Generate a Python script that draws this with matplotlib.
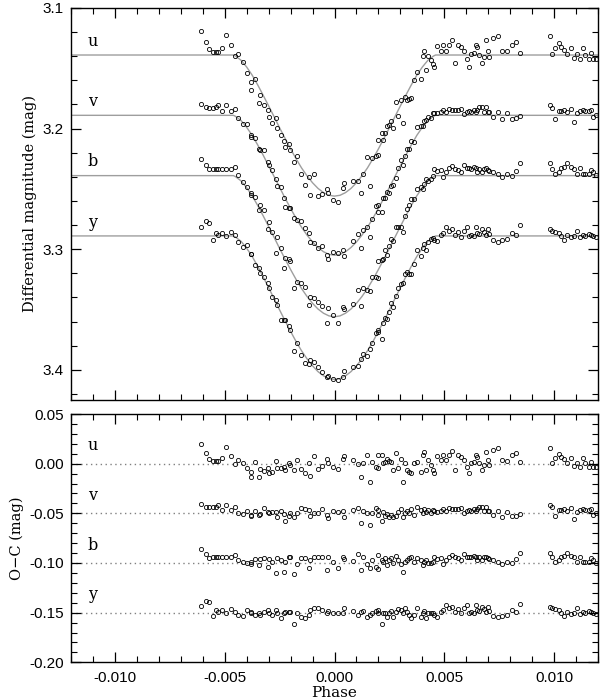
import numpy as np
import matplotlib
matplotlib.use("Agg")
import matplotlib.pyplot as plt
from matplotlib.ticker import MultipleLocator, FormatStrFormatter

plt.rcParams["font.family"] = ["Liberation Sans", "DejaVu Sans"]
plt.rcParams["axes.unicode_minus"] = True

# phases of the observations (shared by the four filters)
phase = [
    -0.00609, -0.00586, -0.00571, -0.00551, -0.00540, -0.00530, -0.00512, -0.00493, -0.00473, -0.00455,
    -0.00437, -0.00417, -0.00400, -0.00382, -0.00379, -0.00360, -0.00345, -0.00340, -0.00322, -0.00304,
    -0.00300, -0.00284, -0.00265, -0.00262, -0.00243, -0.00228, -0.00224, -0.00209, -0.00201, -0.00186,
    -0.00171, -0.00151, -0.00133, -0.00118, -0.00110, -0.00095, -0.00073, -0.00055, -0.00035, -0.00030,
    -0.00008,
    0.00018, 0.00040, 0.00045, 0.00086, 0.00108, 0.00120, 0.00131, 0.00150, 0.00161, 0.00172,
    0.00191, 0.00196, 0.00199, 0.00214, 0.00221, 0.00232, 0.00241, 0.00247, 0.00259, 0.00267,
    0.00279, 0.00290, 0.00301, 0.00312, 0.00320, 0.00332, 0.00338, 0.00347, 0.00362, 0.00377,
    0.00392, 0.00403, 0.00407, 0.00418, 0.00425, 0.00437, 0.00448, 0.00452, 0.00468, 0.00486,
    0.00493, 0.00508, 0.00519, 0.00534, 0.00549, 0.00564, 0.00576, 0.00591, 0.00603,
    0.00614, 0.00622, 0.00634, 0.00644, 0.00649, 0.00659, 0.00670, 0.00679, 0.00690, 0.00700,
    0.00705, 0.00720, 0.00742, 0.00762, 0.00785, 0.00806, 0.00825, 0.00845,
    0.00981, 0.00991, 0.01003, 0.01021, 0.01032, 0.01044, 0.01059, 0.01074, 0.01089, 0.01105,
    0.01117, 0.01132, 0.01142, 0.01157, 0.01165, 0.01177, 0.01188,
]

# differential magnitudes (top panel)
mag_u = [
    3.1192, 3.1283, 3.1343, 3.1367, 3.1367, 3.1367, 3.1333, 3.1222, 3.1310, 3.1398,
    3.1381, 3.1449, 3.1536, 3.1617, 3.1684, 3.1587, 3.1784, 3.1725, 3.1803, 3.1844,
    3.1908, 3.1956, 3.1911, 3.1996, 3.2057, 3.2101, 3.2149, 3.2126, 3.2178, 3.2278,
    3.2225, 3.2378, 3.2467, 3.2398, 3.2549, 3.2378, 3.2555, 3.2544, 3.2497, 3.2538,
    3.2589,
    3.2609, 3.2496, 3.2455, 3.2438, 3.2437, 3.2534, 3.2373, 3.2239, 3.2473, 3.2246,
    3.2227, 3.2094, 3.2219, 3.2033, 3.2093, 3.2037, 3.1980, 3.1973, 3.1940, 3.1995,
    3.1776, 3.1894, 3.1764, 3.1950, 3.1737, 3.1762, 3.1758, 3.1743, 3.1594, 3.1530,
    3.1591, 3.1395, 3.1353, 3.1514, 3.1397, 3.1431, 3.1466, 3.1488, 3.1313, 3.1353,
    3.1303, 3.1353, 3.1303, 3.1263, 3.1454, 3.1303, 3.1326, 3.1353, 3.1420,
    3.1487, 3.1380, 3.1370, 3.1303, 3.1326, 3.1387, 3.1454, 3.1403, 3.1269, 3.1353,
    3.1403, 3.1252, 3.1236, 3.1353, 3.1360, 3.1303, 3.1286, 3.1370,
    3.1236, 3.1380, 3.1336, 3.1293, 3.1326, 3.1346, 3.1380, 3.1336, 3.1413, 3.1380,
    3.1427, 3.1336, 3.1387, 3.1427, 3.1370, 3.1427, 3.1420,
]
mag_v = [
    3.1799, 3.1823, 3.1830, 3.1830, 3.1823, 3.1806, 3.1856, 3.1806, 3.1856, 3.1835,
    3.1911, 3.1961, 3.1962, 3.2053, 3.2071, 3.2075, 3.2168, 3.2178, 3.2180, 3.2277,
    3.2301, 3.2347, 3.2416, 3.2478, 3.2485, 3.2575, 3.2653, 3.2657, 3.2658, 3.2741,
    3.2754, 3.2766, 3.2822, 3.2865, 3.2944, 3.2949, 3.2989, 3.2970, 3.3051, 3.3082,
    3.3022,
    3.3028, 3.3003, 3.3060, 3.2931, 3.2871, 3.2989, 3.2841, 3.2818, 3.2901, 3.2752,
    3.2640, 3.2691, 3.2631, 3.2691, 3.2572, 3.2578, 3.2529, 3.2532, 3.2472, 3.2466,
    3.2410, 3.2327, 3.2264, 3.2300, 3.2230, 3.2168, 3.2168, 3.2104, 3.2112, 3.1989,
    3.1975, 3.1975, 3.1934, 3.1932, 3.1900, 3.1911, 3.1868, 3.1870, 3.1873, 3.1863,
    3.1850, 3.1863, 3.1840, 3.1850, 3.1850, 3.1850, 3.1840, 3.1883, 3.1863,
    3.1856, 3.1863, 3.1850, 3.1863, 3.1850, 3.1823, 3.1823, 3.1863, 3.1823, 3.1863,
    3.1863, 3.1907, 3.1863, 3.1924, 3.1873, 3.1917, 3.1913, 3.1897,
    3.1806, 3.1830, 3.1917, 3.1856, 3.1856, 3.1850, 3.1863, 3.1840, 3.1944, 3.1873,
    3.1856, 3.1850, 3.1856, 3.1856, 3.1850, 3.1907, 3.1890,
]
mag_b = [
    3.2252, 3.2299, 3.2336, 3.2333, 3.2333, 3.2333, 3.2333, 3.2333, 3.2333, 3.2315,
    3.2388, 3.2439, 3.2486, 3.2547, 3.2533, 3.2567, 3.2673, 3.2631, 3.2679, 3.2834,
    3.2774, 3.2856, 3.3035, 3.2895, 3.2987, 3.3158, 3.3072, 3.3079, 3.3101, 3.3325,
    3.3275, 3.3277, 3.3316, 3.3462, 3.3395, 3.3401, 3.3438, 3.3467, 3.3614, 3.3491,
    3.3546,
    3.3609, 3.3476, 3.3498, 3.3452, 3.3339, 3.3473, 3.3319, 3.3336, 3.3346, 3.3229,
    3.3234, 3.3101, 3.3236, 3.3090, 3.3083, 3.3010, 3.3044, 3.2973, 3.2913, 3.2934,
    3.2817, 3.2817, 3.2818, 3.2856, 3.2727, 3.2668, 3.2631, 3.2582, 3.2584, 3.2503,
    3.2481, 3.2502, 3.2461, 3.2420, 3.2437, 3.2421, 3.2389, 3.2333, 3.2353, 3.2343,
    3.2400, 3.2360, 3.2326, 3.2310, 3.2333, 3.2343, 3.2360, 3.2299, 3.2326,
    3.2326, 3.2333, 3.2320, 3.2326, 3.2360, 3.2333, 3.2360, 3.2333, 3.2326, 3.2343,
    3.2353, 3.2360, 3.2377, 3.2400, 3.2377, 3.2393, 3.2353, 3.2286,
    3.2286, 3.2333, 3.2377, 3.2360, 3.2326, 3.2320, 3.2286, 3.2320, 3.2333, 3.2377,
    3.2326, 3.2377, 3.2377, 3.2377, 3.2343, 3.2360, 3.2387,
]
mag_y = [
    3.2820, 3.2769, 3.2783, 3.2924, 3.2863, 3.2880, 3.2863, 3.2890, 3.2856, 3.2885,
    3.2942, 3.2983, 3.2964, 3.3040, 3.3038, 3.3131, 3.3158, 3.3199, 3.3229, 3.3277,
    3.3318, 3.3400, 3.3420, 3.3459, 3.3585, 3.3583, 3.3587, 3.3639, 3.3668, 3.3842,
    3.3777, 3.3880, 3.3944, 3.3948, 3.3916, 3.3932, 3.3973, 3.4016, 3.4063, 3.4048,
    3.4079,
    3.4082, 3.4060, 3.4011, 3.3973, 3.3971, 3.3911, 3.3873, 3.3882, 3.3830, 3.3774,
    3.3691, 3.3667, 3.3685, 3.3747, 3.3608, 3.3568, 3.3575, 3.3521, 3.3450, 3.3480,
    3.3386, 3.3321, 3.3288, 3.3283, 3.3202, 3.3193, 3.3206, 3.3208, 3.3124, 3.3009,
    3.3053, 3.2991, 3.2956, 3.3008, 3.2942, 3.2919, 3.2909, 3.2920, 3.2930, 3.2880,
    3.2863, 3.2813, 3.2846, 3.2830, 3.2880, 3.2856, 3.2897, 3.2846, 3.2813,
    3.2890, 3.2880, 3.2890, 3.2813, 3.2863, 3.2870, 3.2830, 3.2856, 3.2880, 3.2830,
    3.2870, 3.2924, 3.2937, 3.2924, 3.2913, 3.2863, 3.2880, 3.2803,
    3.2830, 3.2846, 3.2856, 3.2863, 3.2890, 3.2924, 3.2880, 3.2903, 3.2890, 3.2846,
    3.2903, 3.2880, 3.2890, 3.2870, 3.2880, 3.2890, 3.2903,
]

# O-C residuals as plotted (bottom panel)
oc_u = [
    0.0198, 0.0107, 0.0047, 0.0023, 0.0023, 0.0023, 0.0057, 0.0168, 0.0080, -0.0003,
    0.0037, 0.0003, -0.0047, -0.0080, -0.0138, 0.0017, -0.0131, -0.0054, -0.0070, -0.0047,
    -0.0097, -0.0087, 0.0027, -0.0047, -0.0040, -0.0030, -0.0064, 0.0010, -0.0013, -0.0064,
    0.0037, -0.0054, -0.0097, 0.0010, -0.0124, 0.0080, -0.0057, -0.0020, 0.0047, 0.0010,
    -0.0030,
    -0.0054, 0.0044, 0.0080, 0.0037, -0.0007, -0.0131, 0.0003, 0.0087, -0.0181, 0.0013,
    -0.0030, 0.0087, -0.0047, 0.0087, 0.0003, 0.0020, 0.0044, 0.0030, 0.0020, -0.0064,
    0.0111, -0.0047, 0.0044, -0.0181, 0.0003, -0.0064, -0.0080, -0.0097, 0.0003, 0.0020,
    -0.0080, 0.0087, 0.0121, -0.0064, 0.0037, -0.0013, -0.0064, -0.0091, 0.0077, 0.0037,
    0.0087, 0.0037, 0.0087, 0.0127, -0.0064, 0.0087, 0.0064, 0.0037, -0.0030,
    -0.0097, 0.0010, 0.0020, 0.0087, 0.0064, 0.0003, -0.0064, -0.0013, 0.0121, 0.0037,
    -0.0013, 0.0138, 0.0154, 0.0037, 0.0030, 0.0087, 0.0104, 0.0020,
    0.0154, 0.0010, 0.0054, 0.0097, 0.0064, 0.0044, 0.0010, 0.0054, -0.0023, 0.0010,
    -0.0037, 0.0054, 0.0003, -0.0037, 0.0020, -0.0037, -0.0030,
]
oc_v = [
    -0.0409, -0.0433, -0.0440, -0.0440, -0.0433, -0.0416, -0.0466, -0.0416, -0.0466, -0.0440,
    -0.0493, -0.0510, -0.0473, -0.0517, -0.0527, -0.0473, -0.0517, -0.0510, -0.0450, -0.0483,
    -0.0493, -0.0483, -0.0483, -0.0534, -0.0473, -0.0510, -0.0574, -0.0527, -0.0500, -0.0534,
    -0.0500, -0.0450, -0.0460, -0.0466, -0.0527, -0.0500, -0.0500, -0.0456, -0.0517, -0.0544,
    -0.0473,
    -0.0483, -0.0473, -0.0534, -0.0466, -0.0450, -0.0594, -0.0473, -0.0500, -0.0617, -0.0500,
    -0.0450, -0.0517, -0.0466, -0.0577, -0.0483, -0.0527, -0.0510, -0.0534, -0.0517, -0.0540,
    -0.0527, -0.0483, -0.0460, -0.0534, -0.0493, -0.0473, -0.0493, -0.0460, -0.0517, -0.0440,
    -0.0466, -0.0493, -0.0460, -0.0483, -0.0466, -0.0493, -0.0466, -0.0473, -0.0483, -0.0473,
    -0.0460, -0.0473, -0.0450, -0.0460, -0.0460, -0.0460, -0.0450, -0.0493, -0.0473,
    -0.0466, -0.0473, -0.0460, -0.0473, -0.0460, -0.0433, -0.0433, -0.0473, -0.0433, -0.0473,
    -0.0473, -0.0517, -0.0473, -0.0534, -0.0483, -0.0527, -0.0523, -0.0507,
    -0.0416, -0.0440, -0.0527, -0.0466, -0.0466, -0.0460, -0.0473, -0.0450, -0.0554, -0.0483,
    -0.0466, -0.0460, -0.0466, -0.0466, -0.0460, -0.0517, -0.0500,
]
oc_b = [
    -0.0862, -0.0909, -0.0946, -0.0943, -0.0943, -0.0943, -0.0943, -0.0943, -0.0943, -0.0920,
    -0.0970, -0.0987, -0.0997, -0.1010, -0.0987, -0.0963, -0.1020, -0.0960, -0.0946, -0.1037,
    -0.0963, -0.0987, -0.1097, -0.0946, -0.0970, -0.1087, -0.0987, -0.0943, -0.0936, -0.1111,
    -0.1013, -0.0953, -0.0946, -0.1054, -0.0970, -0.0943, -0.0940, -0.0943, -0.1070, -0.0943,
    -0.0987,
    -0.1054, -0.0936, -0.0963, -0.0977, -0.0909, -0.1070, -0.0943, -0.1010, -0.1054, -0.0970,
    -0.1037, -0.0920, -0.1064, -0.0970, -0.0987, -0.0953, -0.1020, -0.0970, -0.0953, -0.1003,
    -0.0930, -0.0970, -0.1010, -0.1087, -0.0987, -0.0970, -0.0953, -0.0936, -0.0987, -0.0953,
    -0.0970, -0.1020, -0.0987, -0.0970, -0.1003, -0.1003, -0.0987, -0.0936, -0.0963, -0.0953,
    -0.1010, -0.0970, -0.0936, -0.0920, -0.0943, -0.0953, -0.0970, -0.0909, -0.0936,
    -0.0936, -0.0943, -0.0930, -0.0936, -0.0970, -0.0943, -0.0970, -0.0943, -0.0936, -0.0953,
    -0.0963, -0.0970, -0.0987, -0.1010, -0.0987, -0.1003, -0.0963, -0.0896,
    -0.0896, -0.0943, -0.0987, -0.0970, -0.0936, -0.0930, -0.0896, -0.0930, -0.0943, -0.0987,
    -0.0936, -0.0987, -0.0987, -0.0987, -0.0953, -0.0970, -0.0997,
]
oc_y = [
    -0.1430, -0.1379, -0.1393, -0.1534, -0.1473, -0.1490, -0.1473, -0.1500, -0.1466, -0.1490,
    -0.1523, -0.1530, -0.1473, -0.1500, -0.1490, -0.1523, -0.1500, -0.1523, -0.1490, -0.1473,
    -0.1500, -0.1523, -0.1473, -0.1500, -0.1557, -0.1500, -0.1490, -0.1490, -0.1490, -0.1614,
    -0.1500, -0.1540, -0.1557, -0.1523, -0.1473, -0.1456, -0.1456, -0.1473, -0.1500, -0.1480,
    -0.1500,
    -0.1507, -0.1500, -0.1456, -0.1480, -0.1523, -0.1490, -0.1480, -0.1540, -0.1523, -0.1500,
    -0.1480, -0.1473, -0.1500, -0.1614, -0.1500, -0.1500, -0.1540, -0.1507, -0.1480, -0.1540,
    -0.1490, -0.1466, -0.1473, -0.1507, -0.1456, -0.1490, -0.1523, -0.1557, -0.1523, -0.1456,
    -0.1540, -0.1507, -0.1480, -0.1557, -0.1507, -0.1500, -0.1507, -0.1523, -0.1540, -0.1490,
    -0.1473, -0.1423, -0.1456, -0.1440, -0.1490, -0.1466, -0.1507, -0.1456, -0.1423,
    -0.1500, -0.1490, -0.1500, -0.1423, -0.1473, -0.1480, -0.1440, -0.1466, -0.1490, -0.1440,
    -0.1480, -0.1534, -0.1547, -0.1534, -0.1523, -0.1473, -0.1490, -0.1413,
    -0.1440, -0.1456, -0.1466, -0.1473, -0.1500, -0.1534, -0.1490, -0.1513, -0.1500, -0.1456,
    -0.1513, -0.1490, -0.1500, -0.1480, -0.1490, -0.1500, -0.1513,
]

# fitted light curve, read at knots
model_phase = [
    -0.0120, -0.0046, -0.0045, -0.00425, -0.0040, -0.00375, -0.0035, -0.00325, -0.0030, -0.00275,
    -0.0025, -0.00225, -0.0020, -0.00175, -0.0015, -0.00125, -0.0010, -0.00075, -0.0005, -0.00025,
    0.0,
    0.00025, 0.0005, 0.00075, 0.0010, 0.00125, 0.0015, 0.00175, 0.0020, 0.00225, 0.0025,
    0.00275, 0.0030, 0.00325, 0.0035, 0.00375, 0.0040, 0.00425, 0.0045, 0.0046, 0.0120,
]
model_u = [
    3.1390, 3.1390, 3.1399, 3.1434, 3.1489, 3.1556, 3.1636, 3.1722, 3.1811, 3.1901,
    3.1993, 3.2081, 3.2168, 3.2250, 3.2326, 3.2392, 3.2449, 3.2496, 3.2531, 3.2553,
    3.2560,
    3.2553, 3.2531, 3.2496, 3.2449, 3.2392, 3.2326, 3.2250, 3.2168, 3.2081, 3.1993,
    3.1901, 3.1811, 3.1722, 3.1636, 3.1556, 3.1489, 3.1434, 3.1399, 3.1390, 3.1390,
]
model_v = [
    3.1890, 3.1890, 3.1899, 3.1934, 3.1989, 3.2055, 3.2134, 3.2219, 3.2308, 3.2397,
    3.2487, 3.2576, 3.2661, 3.2743, 3.2818, 3.2883, 3.2940, 3.2986, 3.3021, 3.3043,
    3.3050,
    3.3043, 3.3021, 3.2986, 3.2940, 3.2883, 3.2818, 3.2743, 3.2661, 3.2576, 3.2487,
    3.2397, 3.2308, 3.2219, 3.2134, 3.2055, 3.1989, 3.1934, 3.1899, 3.1890, 3.1890,
]
model_b = [
    3.2390, 3.2390, 3.2399, 3.2434, 3.2489, 3.2556, 3.2636, 3.2722, 3.2811, 3.2901,
    3.2993, 3.3081, 3.3168, 3.3250, 3.3326, 3.3392, 3.3449, 3.3496, 3.3531, 3.3553,
    3.3560,
    3.3553, 3.3531, 3.3496, 3.3449, 3.3392, 3.3326, 3.3250, 3.3168, 3.3081, 3.2993,
    3.2901, 3.2811, 3.2722, 3.2636, 3.2556, 3.2489, 3.2434, 3.2399, 3.2390, 3.2390,
]
model_y = [
    3.2890, 3.2890, 3.2900, 3.2935, 3.2991, 3.3059, 3.3140, 3.3228, 3.3318, 3.3410,
    3.3503, 3.3593, 3.3681, 3.3765, 3.3842, 3.3909, 3.3967, 3.4015, 3.4050, 3.4073,
    3.4080,
    3.4073, 3.4050, 3.4015, 3.3967, 3.3909, 3.3842, 3.3765, 3.3681, 3.3593, 3.3503,
    3.3410, 3.3318, 3.3228, 3.3140, 3.3059, 3.2991, 3.2935, 3.2900, 3.2890, 3.2890,
]

bands = ["u", "v", "b", "y"]
mags = [mag_u, mag_v, mag_b, mag_y]
ocs = [oc_u, oc_v, oc_b, oc_y]
models = [model_u, model_v, model_b, model_y]
oc_zero = [0.0, -0.05, -0.10, -0.15]

serif = ["DejaVu Serif"]
pt_style = dict(ls="none", marker="o", ms=3.0, mfc="none", mec="black", mew=0.6)

fig = plt.figure(figsize=(6.0, 6.99), dpi=100)
ax1 = fig.add_axes([0.118, 0.4278, 0.879, 0.5608])
ax2 = fig.add_axes([0.118, 0.0525, 0.879, 0.3552])

for band, m, mod in zip(bands, mags, models):
    ax1.plot(model_phase, mod, color="0.62", lw=1.0, zorder=1)
    ax1.plot(phase, m, zorder=2, **pt_style)
    ax1.text(-0.0110, mod[0] - 0.0115, band, family=serif, fontsize=11.5,
             ha="center", va="center")

for band, oc, z in zip(bands, ocs, oc_zero):
    ax2.plot([-0.012, 0.012], [z, z], color="0.5", lw=1.0, ls=(0, (1, 2.5)), zorder=1)
    ax2.plot(phase, oc, zorder=2, **pt_style)
    ax2.text(-0.0110, z + 0.018, band, family=serif, fontsize=11.5,
             ha="center", va="center")

ax1.set_xlim(-0.012, 0.012)
ax1.set_ylim(3.425, 3.1)
ax2.set_xlim(-0.012, 0.012)
ax2.set_ylim(-0.20, 0.05)

for ax in (ax1, ax2):
    ax.xaxis.set_major_locator(MultipleLocator(0.005))
    ax.xaxis.set_minor_locator(MultipleLocator(0.001))
    ax.tick_params(which="both", direction="in", top=True, right=True, labelsize=11)
    ax.tick_params(which="major", length=7, width=0.9)
    ax.tick_params(which="minor", length=4, width=0.8)
    ax.tick_params(axis="x", pad=6)
    ax.tick_params(axis="y", pad=5)
    for s in ax.spines.values():
        s.set_linewidth(1.0)

ax1.yaxis.set_major_locator(MultipleLocator(0.1))
ax1.yaxis.set_minor_locator(MultipleLocator(0.02))
ax1.yaxis.set_major_formatter(FormatStrFormatter("%.1f"))
ax1.tick_params(axis="x", labelbottom=False)

ax2.yaxis.set_major_locator(MultipleLocator(0.05))
ax2.yaxis.set_minor_locator(MultipleLocator(0.01))
ax2.yaxis.set_major_formatter(FormatStrFormatter("%.2f"))
ax2.xaxis.set_major_formatter(FormatStrFormatter("%.3f"))

ax1.set_ylabel("Differential magnitude (mag)", family=serif, fontsize=10.5)
ax2.set_ylabel("O\u2212C (mag)", family=serif, fontsize=10.5)
ax2.set_xlabel("Phase", family=serif, fontsize=11, labelpad=1)

fig.savefig("out.png", dpi=100)
